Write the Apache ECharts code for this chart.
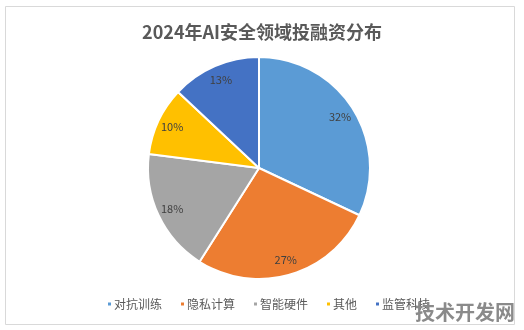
<!DOCTYPE html>
<html><head><meta charset="utf-8">
<script src="https://cdn.jsdelivr.net/npm/echarts@6/dist/echarts.min.js"></script>
<style>html,body{margin:0;padding:0;background:#fff}#c{width:524px;height:330px}</style>
</head><body><div id="c"></div>
<script>
const categories = ['对抗训练', '隐私计算', '智能硬件', '其他', '监管科技'];
const values = [32, 27, 18, 10, 13];
const colors = ['#5B9BD5', '#ED7D31', '#A5A5A5', '#FFC000', '#4472C4'];
const titleText = '2024年AI安全领域投融资分布';
const watermark = '技术开发网';

const font = '"Microsoft YaHei", "Noto Sans CJK SC", sans-serif';
const data = categories.map((n, i) => ({ name: n, value: values[i], itemStyle: { color: colors[i] } }));
const chart = echarts.init(document.getElementById('c'), null, { renderer: 'canvas' });
chart.setOption({
  backgroundColor: '#fff',
  animation: false,
  title: {
    text: titleText, left: 'center', top: 18,
    textStyle: { fontFamily: font, fontSize: 18, fontWeight: 'bold', color: '#595959' }
  },
  legend: {
    top: 298, left: 106, padding: 0, icon: 'rect', itemWidth: 5, itemHeight: 5, itemGap: 17,
    data: categories,
    textStyle: { fontFamily: font, fontSize: 12, color: '#595959', padding: [0, 0, 0, -3] }
  },
  graphic: [
    { type: 'rect', shape: { x: 5.5, y: 6.5, width: 509, height: 318 }, style: { fill: 'none', stroke: '#d9d9d9', lineWidth: 1 }, z: -1 },
    { type: 'text', left: 415, top: 302, style: { text: watermark, font: 'bold 20px ' + font, fill: '#8a8a8a' }, z: 100 }
  ],
  series: [
    {
      type: 'pie', center: [259, 168], radius: [0, 111], startAngle: 90, clockwise: true,
      data: data, label: { show: false }, labelLine: { show: false },
      itemStyle: { borderColor: '#fff', borderWidth: 2 }, silent: true
    },
    {
      type: 'pie', center: [259, 168], radius: [75, 111], startAngle: 90, clockwise: true,
      data: categories.map((n, i) => ({ name: n, value: values[i] })),
      itemStyle: { color: 'rgba(0,0,0,0)', borderWidth: 0 }, silent: true,
      label: { show: true, position: 'inside', formatter: '{c}%', fontFamily: font, fontSize: 11, color: '#404040' },
      labelLine: { show: false }
    }
  ]
});
</script></body></html>
